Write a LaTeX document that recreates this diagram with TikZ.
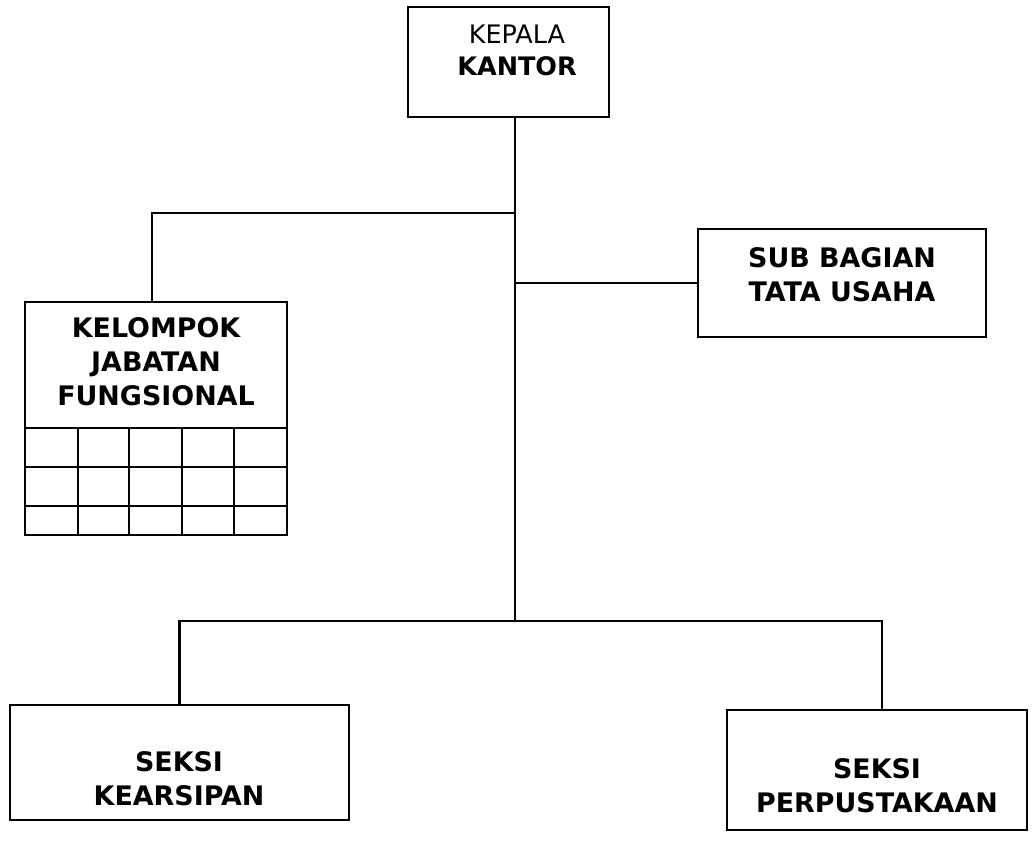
\documentclass[tikz,border=0pt]{standalone}
\usepackage{fontspec}
\setmainfont{DejaVu Sans}
\begin{document}
\begin{tikzpicture}[x=0.02cm,y=-0.02cm,line width=1.2pt]
    \tikzset{kotak/.style={draw,inner sep=0pt},
        teks/.style={align=center,font=\bfseries\fontsize{15.3}{19.3}\selectfont}}
    \useasboundingbox (0,0) rectangle (1035,850);
    % kotak-kotak
    \node[kotak,minimum width=4.02cm,minimum height=2.2cm] (kepala) at (508.5,62) {};
    \node[kotak,minimum width=5.76cm,minimum height=2.16cm] (subbag) at (842,283) {};
    \node[kotak,minimum width=5.24cm,minimum height=4.66cm] (kelompok) at (156,418.5) {};
    \node[kotak,minimum width=6.78cm,minimum height=2.3cm] (kearsipan) at (179.5,762.5) {};
    \node[kotak,minimum width=6.0cm,minimum height=2.4cm] (perpus) at (877,770) {};
    % teks
    \node[align=center,font=\fontsize{14.5}{18.1}\selectfont] (kepala-teks) at (517,50) {KEPALA\\\textbf{KANTOR}};
    \node[teks] (subbag-teks) at (842,275) {SUB BAGIAN\\TATA USAHA};
    \node[teks] (kelompok-teks) at (156,362) {KELOMPOK\\JABATAN\\FUNGSIONAL};
    \node[teks] (kearsipan-teks) at (179,779) {SEKSI\\KEARSIPAN};
    \node[teks] (perpus-teks) at (877,786) {SEKSI\\PERPUSTAKAAN};
    % tabel di bawah kelompok jabatan fungsional
    \draw (25,428) -- (287,428);
    \draw (25,467) -- (287,467);
    \draw (25,506) -- (287,506);
    \foreach \x in {78,129,182,234}
        \draw (\x,428) -- (\x,535);
    % garis penghubung
    \coordinate (atas) at (kepala.south -| 515,0);
    \coordinate (pusat) at (atas |- 0,621);
    \coordinate (cabang1) at (atas |- 0,213);
    \coordinate (cabang2) at (atas |- subbag.west);
    \coordinate (kiri) at (kelompok.north -| 152,0);
    \coordinate (kanan) at (perpus.north -| 882,0);
    \draw (atas) -- (pusat);
    \draw (cabang1) -| (kiri);
    \draw (cabang2) -- (subbag.west);
    \draw (kearsipan.north) |- (pusat) -| (kanan);
\end{tikzpicture}
\end{document}
